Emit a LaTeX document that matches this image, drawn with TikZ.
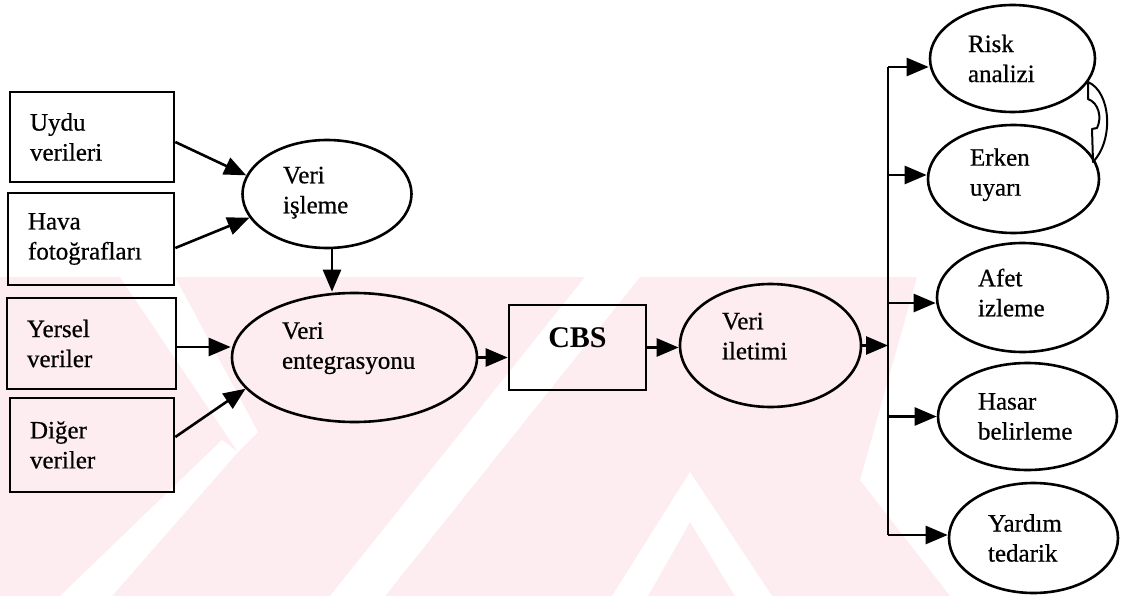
\documentclass[tikz,border=0pt]{standalone}
\usepackage{fontspec}
\setmainfont{Liberation Serif}
\newfontfamily\scanfont{Liberation Serif}[FakeBold=0.6]
\usetikzlibrary{shapes.geometric,arrows.meta}
\definecolor{markpink}{RGB}{253,236,240}
% extra depth below the last text line, lifts the text inside its shape
\newcommand\lowerpad[1]{\rule[-#1]{0pt}{0pt}}
\begin{document}
\begin{tikzpicture}[x=1pt,y=-1pt,
  every node/.style={font=\scanfont\fontsize{25}{30}\selectfont, inner sep=0pt},
  box/.style={draw, line width=2.6pt, rectangle, align=left, inner xsep=20pt},
  ell/.style={draw, line width=2.6pt, ellipse, align=left},
  arr/.style={line width=2.6pt, -{Triangle[length=22pt,width=18pt]}},
  bus/.style={line width=2.6pt}]
\useasboundingbox (0,0) rectangle (1121,596);

% pale striped emblem in the background
\fill[markpink] (0,277) -- (917,277) -- (860,480) -- (950,596) -- (0,596) -- cycle;
\fill[white] (120,277) -- (175,277) -- (258,432) -- (238,452) -- cycle;
\fill[white] (60,596) -- (112,596) -- (238,452) -- (222,440) -- cycle;
\fill[white] (330,596) -- (385,596) -- (640,277) -- (585,277) -- cycle;
\fill[white] (612,596) -- (690,472) -- (772,596) -- (735,596) -- (690,522) -- (648,596) -- cycle;

% input data boxes
\node[box, text width=124pt, minimum height=90pt] (uydu)   at (92,137)    {Uydu\\verileri};
\node[box, text width=126pt, minimum height=92pt] (hava)   at (91,239)    {Hava\\fotoğrafları};
\node[box, text width=129pt, minimum height=91pt] (yersel) at (91.5,343.5) {Yersel\\veriler};
\node[box, text width=124pt, minimum height=94pt] (diger)  at (92,445)    {Diğer\\veriler};

% processing chain
\node[ell, minimum width=169pt, minimum height=108pt, text width=88pt]  (isleme) at (327,194)   {Veri\\işleme\lowerpad{8pt}};
\node[ell, minimum width=245pt, minimum height=129pt, text width=145pt] (enteg)  at (354.5,357.5) {Veri\\entegrasyonu\lowerpad{24pt}};
\node[draw, line width=2.6pt, minimum width=137pt, minimum height=85pt,
      font=\fontsize{30}{34}\selectfont\bfseries, text height=20pt, text depth=20pt] (cbs) at (577.5,347.5) {CBS};
\node[ell, minimum width=181pt, minimum height=123pt, text width=97pt]  (ilet)   at (770.5,345.5) {Veri\\iletimi\lowerpad{19pt}};

% applications
\node[ell, minimum width=165pt, minimum height=107pt, text width=89pt] (risk)   at (1012.5,58.5) {Risk\\analizi};
\node[ell, minimum width=171pt, minimum height=108pt, text width=87pt] (erken)  at (1013.5,179)  {Erken\\uyarı\lowerpad{14pt}};
\node[ell, minimum width=171pt, minimum height=109pt, text width=89pt] (afet)   at (1022.5,297.5) {Afet\\izleme\lowerpad{10pt}};
\node[ell, minimum width=179pt, minimum height=107pt, text width=99pt] (hasar)  at (1027.5,416.5) {Hasar\\belirleme};
\node[ell, minimum width=169pt, minimum height=110pt, text width=91pt] (yardim) at (1033.5,538)   {Yardım\\tedarik};

% connectors on the left
\draw[arr] ([yshift=-5pt]uydu.east) -- (isleme.167);
\draw[arr] ([yshift=-9pt]hava.east) -- (isleme.197);
\draw[arr] (isleme.south) ++(5pt,0) coordinate (isl) (isl) -- (isl |- enteg.north);
\draw[arr] ([yshift=-3.5pt]yersel.east) -- ([yshift=-3.5pt]yersel.east -| enteg.west);
\draw[arr] ([yshift=8pt]diger.east) -- (enteg.196);
\draw[arr] (enteg.east) -- (enteg.east -| cbs.west);
\draw[arr] (cbs.east) -- (cbs.east -| ilet.west);

% distribution line
\coordinate (bustop) at (888,67);
\coordinate (busbot) at (888,535);
\draw[arr] (ilet.east) -- (ilet.east -| bustop);
\draw[bus] (bustop) -- (busbot);
\draw[arr] (bustop) -- (bustop -| risk.west);
\draw[arr] ([yshift=4pt]erken.west -| bustop) -- ([yshift=4pt]erken.west);
\draw[arr] ([yshift=-5.5pt]afet.west -| bustop) -- ([yshift=-5.5pt]afet.west);
\draw[arr] (hasar.west -| bustop) -- (hasar.west);
\draw[arr] (busbot) -- (busbot -| yardim.west);

% curved hollow arrow between the first two applications
\draw[line width=2pt, line join=round]
  (1088,82) -- (1088,99) .. controls (1099,103) and (1102,118) .. (1097,128)
  -- (1092,129) -- (1093,162) .. controls (1114,140) and (1111,92) .. cycle;
\end{tikzpicture}
\end{document}
